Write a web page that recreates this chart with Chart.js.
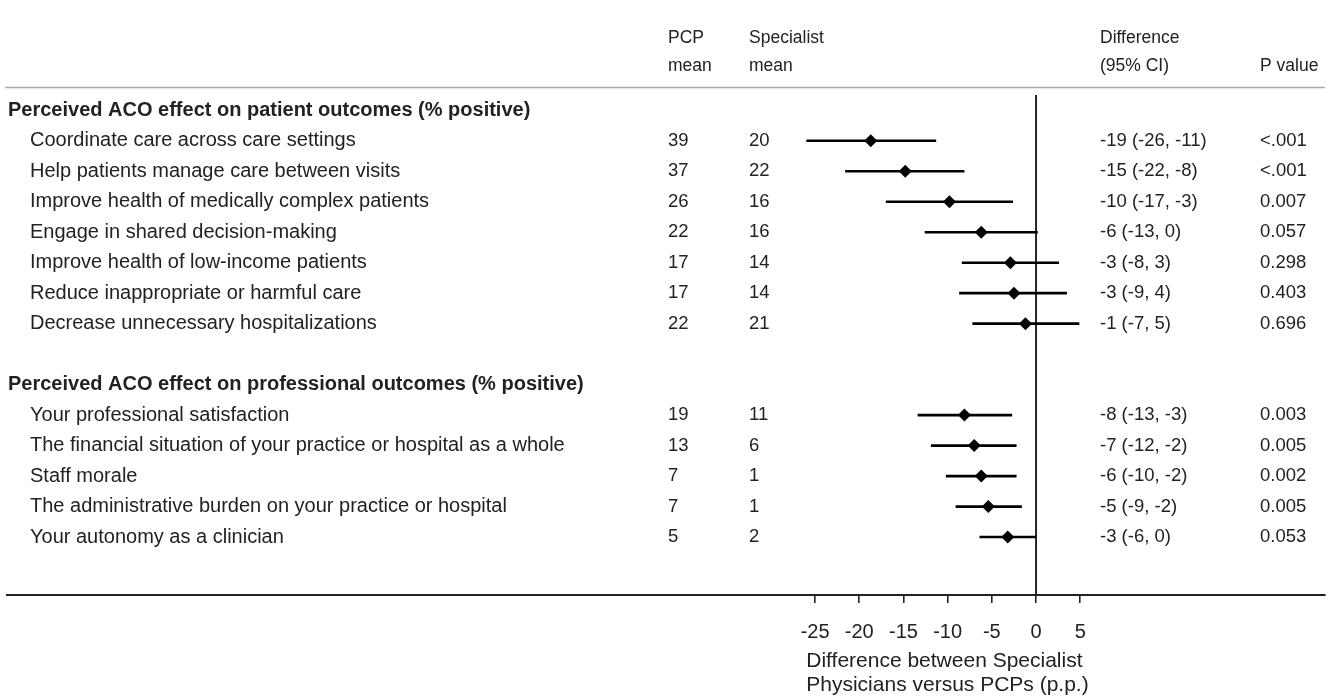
<!DOCTYPE html>
<html>
<head>
<meta charset="utf-8">
<script src="https://cdn.jsdelivr.net/npm/chart.js@4"></script>
<style>
  html, body { margin: 0; padding: 0; background: #fff; }
  #wrap { width: 1333px; height: 699px; }
</style>
</head>
<body>
<div id="wrap"><canvas id="forest"></canvas></div>
<script>
// Section headers
const sectionTitles = [
    'Perceived ACO effect on patient outcomes (% positive)',
    'Perceived ACO effect on professional outcomes (% positive)'
];

// Patient outcomes
const patientItems = [
    'Coordinate care across care settings',
    'Help patients manage care between visits',
    'Improve health of medically complex patients',
    'Engage in shared decision-making',
    'Improve health of low-income patients',
    'Reduce inappropriate or harmful care',
    'Decrease unnecessary hospitalizations'
];
const patientPcp = [39, 37, 26, 22, 17, 17, 22];
const patientSpec = [20, 22, 16, 16, 14, 14, 21];
const patientEst = [-18.7, -14.8, -9.8, -6.2, -2.9, -2.5, -1.2];
const patientLow = [-26.0, -21.6, -17.0, -12.6, -8.4, -8.7, -7.2];
const patientHigh = [-11.3, -8.1, -2.6, 0.2, 2.6, 3.5, 4.9];
const patientCi = ['-19 (-26, -11)', '-15 (-22, -8)', '-10 (-17, -3)', '-6 (-13, 0)', '-3 (-8, 3)', '-3 (-9, 4)', '-1 (-7, 5)'];
const patientP = ['<.001', '<.001', '0.007', '0.057', '0.298', '0.403', '0.696'];

// Professional outcomes
const profItems = [
    'Your professional satisfaction',
    'The financial situation of your practice or hospital as a whole',
    'Staff morale',
    'The administrative burden on your practice or hospital',
    'Your autonomy as a clinician'
];
const profPcp = [19, 13, 7, 7, 5];
const profSpec = [11, 6, 1, 1, 2];
const profEst = [-8.1, -7.0, -6.2, -5.4, -3.2];
const profLow = [-13.4, -11.9, -10.2, -9.1, -6.4];
const profHigh = [-2.7, -2.2, -2.2, -1.6, 0.0];
const profCi = ['-8 (-13, -3)', '-7 (-12, -2)', '-6 (-10, -2)', '-5 (-9, -2)', '-3 (-6, 0)'];
const profP = ['0.003', '0.005', '0.002', '0.005', '0.053'];

const xTicks = [-25, -20, -15, -10, -5, 0, 5];
const axisTitle = ['Difference between Specialist', 'Physicians versus PCPs (p.p.)'];

// Row positions (section header, items, blank, section header, items)
const patientRows = patientItems.map((_, i) => i + 1);
const profRows = profItems.map((_, i) => i + 10);
const headerRows = [0, 9];

const allRows = patientRows.concat(profRows);
const allEst = patientEst.concat(profEst);
const allLow = patientLow.concat(profLow);
const allHigh = patientHigh.concat(profHigh);

const ink = '#222';
const font = 'Arial, "Liberation Sans", sans-serif';

// CI whiskers, one small line dataset per row
const ciSets = allRows.map((row, i) => ({
    type: 'line',
    data: [{ x: allLow[i], y: row }, { x: allHigh[i], y: row }],
    borderColor: '#000',
    borderWidth: 2.6,
    pointRadius: 0,
    showLine: true,
    order: 2
}));

const datasets = [
    {
        // reference line at zero
        type: 'line',
        data: [{ x: 0, y: -0.5 }, { x: 0, y: 15.9 }],
        borderColor: '#111',
        borderWidth: 1.8,
        pointRadius: 0,
        showLine: true,
        order: 3
    },
    ...ciSets,
    {
        type: 'scatter',
        data: allRows.map((row, i) => ({ x: allEst[i], y: row })),
        pointStyle: 'rectRot',
        pointRadius: 6.5,
        backgroundColor: '#000',
        borderColor: '#000',
        borderWidth: 0,
        order: 1
    }
];

// Table text and rules drawn around the plot
const tablePlugin = {
    id: 'tableText',
    beforeDraw(chart) {
        const ctx = chart.ctx;
        ctx.save();
        ctx.strokeStyle = '#aaa';
        ctx.lineWidth = 1.5;
        ctx.beginPath();
        ctx.moveTo(5, 87.5);
        ctx.lineTo(1325, 87.5);
        ctx.stroke();
        ctx.restore();
    },
    afterDraw(chart) {
        const ctx = chart.ctx;
        const y = chart.scales.y;
        const x = chart.scales.x;
        ctx.save();
        ctx.fillStyle = ink;
        ctx.textBaseline = 'middle';
        ctx.textAlign = 'left';

        // column headers
        ctx.font = '17.5px ' + font;
        ctx.fillText('PCP', 668, 38);
        ctx.fillText('mean', 668, 66);
        ctx.fillText('Specialist', 749, 38);
        ctx.fillText('mean', 749, 66);
        ctx.fillText('Difference', 1100, 38);
        ctx.fillText('(95% CI)', 1100, 66);
        ctx.fillText('P value', 1260, 66);

        ctx.font = 'bold 20px ' + font;
        headerRows.forEach((r, i) => ctx.fillText(sectionTitles[i], 8, y.getPixelForValue(r)));

        const drawRows = (rows, items, pcp, spec, ci, p) => {
            rows.forEach((r, i) => {
                const py = y.getPixelForValue(r);
                ctx.font = '20px ' + font;
                ctx.fillText(items[i], 30, py);
                ctx.font = '18.5px ' + font;
                ctx.fillText(String(pcp[i]), 668, py);
                ctx.fillText(String(spec[i]), 749, py);
                ctx.fillText(ci[i], 1100, py);
                ctx.fillText(p[i], 1260, py);
            });
        };
        drawRows(patientRows, patientItems, patientPcp, patientSpec, patientCi, patientP);
        drawRows(profRows, profItems, profPcp, profSpec, profCi, profP);

        // axis title, left aligned under the ticks
        ctx.font = '21px ' + font;
        ctx.fillText(axisTitle[0], x.getPixelForValue(-26), 661);
        ctx.fillText(axisTitle[1], x.getPixelForValue(-26), 685);
        ctx.restore();
    }
};

new Chart(document.getElementById('forest'), {
    type: 'scatter',
    data: { datasets },
    options: {
        responsive: true,
        maintainAspectRatio: false,
        animation: false,
        layout: { padding: { top: 95, left: 0, right: 8, bottom: 0 } },
        plugins: {
            legend: { display: false },
            tooltip: { enabled: false }
        },
        scales: {
            x: {
                type: 'linear',
                min: -116.5,
                max: 32.7,
                afterBuildTicks: scale => {
                    scale.ticks = xTicks.map(v => ({ value: v }));
                },
                afterFit: scale => { scale.height = 104; },
                ticks: {
                    color: ink,
                    padding: 17,
                    font: { family: font, size: 20 },
                    maxRotation: 0,
                    autoSkip: false
                },
                grid: {
                    drawOnChartArea: false,
                    drawTicks: true,
                    tickLength: 8,
                    color: '#222',
                    lineWidth: 1.6
                },
                border: { display: true, color: '#222', width: 2 }
            },
            y: {
                type: 'linear',
                min: -0.5,
                max: 15.9,
                reverse: true,
                display: false
            }
        }
    },
    plugins: [tablePlugin]
});
</script>
</body>
</html>
